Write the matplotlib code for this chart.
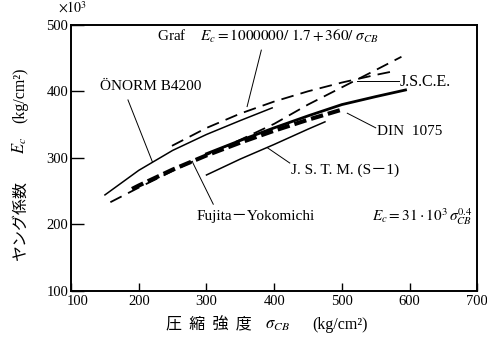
import numpy as np
import matplotlib
matplotlib.use("Agg")
import matplotlib.pyplot as plt
from matplotlib.transforms import ScaledTranslation

plt.rcParams['font.family'] = ['Liberation Serif', 'Noto Sans CJK JP', 'DejaVu Sans']
plt.rcParams['mathtext.fontset'] = 'stix'

# compressive strength (kg/cm2) and Young's modulus (x10^3 kg/cm2) for each code
onorm_s = [150, 200, 250, 300, 350, 397]
onorm_e = [244, 281, 311, 335, 356, 375]

# Graf: Ec = 1000000 / (1.7 + 360/s)
graf_s = [249, 300, 350, 400, 450, 500, 550, 575]
graf_e = [317.9, 344.8, 366.5, 384.6, 400.0, 413.2, 424.7, 429.9]

jsce_s = [158, 200, 250, 300, 350, 400, 450, 500, 550, 588]
jsce_e = [233, 255, 280, 304, 327, 351, 380, 406, 432, 452]

jstm_s = [300, 350, 400, 450, 475]
jstm_e = [274, 298, 320, 343, 354]

# Fujita-Yokomichi: Ec = 31e3 * s^0.4
fujita_s = [190, 200, 250, 300, 350, 400, 450, 500]
fujita_e = [252.9, 258.1, 282.1, 303.5, 322.8, 340.7, 357.2, 372.4]

din_s = [300, 350, 400, 450, 500, 550, 594]
din_e = [306, 326, 345, 363, 380, 392, 402]

xticks = [100, 200, 300, 400, 500, 600, 700]
yticks = [100, 200, 300, 400, 500]

W, H = 487, 341
fig = plt.figure(figsize=(W / 100, H / 100), dpi=100)
ax = fig.add_axes([0.146, 0.148, 0.834, 0.779])

dash = (0, (7, 4))
ax.plot(onorm_s, onorm_e, color='black', lw=1.1)
ax.plot(graf_s, graf_e, color='black', lw=1.3, linestyle=dash)
ax.plot(jsce_s, jsce_e, color='black', lw=1.3, linestyle=dash)
ax.plot(jstm_s, jstm_e, color='black', lw=1.1)
ax.plot(din_s, din_e, color='black', lw=2.0)
ax.plot(fujita_s, fujita_e, color='black', lw=3.0, linestyle=(0, (3, 1.2)))

ax.set_xlim(100, 700)
ax.set_ylim(100, 500)
ax.set_xticks(xticks)
ax.set_yticks(yticks)
ax.tick_params(axis='x', direction='in', length=6, width=1, pad=3, labelsize=10.5)
ax.tick_params(axis='y', direction='in', length=9, width=1, pad=2, labelsize=10.5)
for side in ['left', 'bottom', 'right', 'top']:
    ax.spines[side].set_linewidth(1.4)

# nudge the first x label off the corner
fig.canvas.draw()
first = ax.get_xticklabels()[0]
first.set_transform(first.get_transform() + ScaledTranslation(0.07, 0, fig.dpi_scale_trans))

# curve labels and leader lines
txt = 11
ax.text(227, 482, r'Graf    $E_c = 1000000/\ 1.7 + 360/\ \sigma_{CB}$', fontsize=txt,
        ha='left', va='center')
ax.plot([381, 360], [462, 377], color='black', lw=0.7)

ax.text(143, 407, 'ÖNORM B4200', fontsize=txt, ha='left', va='center')
ax.plot([184, 220], [387, 294], color='black', lw=0.7)

ax.text(586, 414, 'J.S.C.E.', fontsize=11.5, ha='left', va='center')
ax.plot([522, 584], [416, 416], color='black', lw=0.7)

ax.text(552, 339, 'DIN  1075', fontsize=txt, ha='left', va='center')
ax.plot([550, 508], [345, 367], color='black', lw=0.7)

ax.text(425, 281, 'J. S. T. M. (S－1)', fontsize=txt, ha='left', va='center')
ax.plot([423, 390], [292, 315], color='black', lw=0.7)

ax.text(286, 212, 'Fujita－Yokomichi', fontsize=txt, ha='left', va='center')
ax.plot([310, 280], [230, 292], color='black', lw=0.7)

ax.text(545, 212, r'$E_c = 31\cdot10^3\,\sigma_{CB}^{0.4}$', fontsize=txt,
        ha='left', va='center')

fig.text(58 / W, 1 - 8 / H, r'$\times10^3$', fontsize=10, ha='left', va='center')

# axis titles, split so the Japanese words keep a CJK font
def fx(px):
    return px / W

def fy(py):
    return 1 - py / H

fig.text(fx(20), fy(220), 'ヤング係数', rotation=90, fontsize=11.5,
         ha='center', va='center', family=['Noto Sans CJK JP'])
fig.text(fx(20), fy(145), r'$E_c$', rotation=90, fontsize=12, ha='center', va='center')
fig.text(fx(20), fy(95), '(kg/cm²)', rotation=90, fontsize=11.5, ha='center', va='center')

fig.text(fx(209), fy(325), '圧  縮  強  度', fontsize=11.5, ha='center', va='center',
         family=['Noto Sans CJK JP'])
fig.text(fx(277), fy(325), r'$\sigma_{CB}$', fontsize=12, ha='center', va='center')
fig.text(fx(340), fy(325), '(kg/cm²)', fontsize=11.5, ha='center', va='center')

fig.savefig('out.png', dpi=100)
